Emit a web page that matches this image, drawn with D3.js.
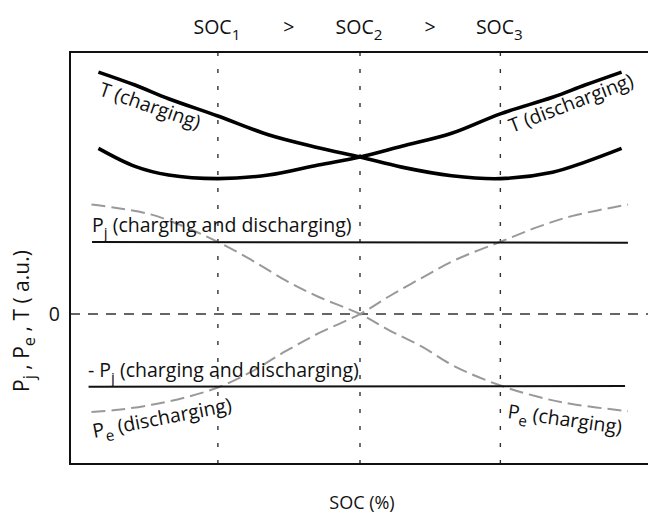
<!DOCTYPE html>
<html>
<head>
<meta charset="utf-8">
<script src="https://cdn.jsdelivr.net/npm/d3@7"></script>
<style>
  html, body { margin: 0; padding: 0; background: #fff; }
  svg { display: block; font-family: "Open Sans", "Noto Sans", sans-serif; }
</style>
</head>
<body>
<svg id="chart" width="648" height="515"></svg>
<script>
// State-of-charge positions (%) and the three reference SOC levels
const socMarks = [25.5, 50, 74.2];
const socMarkNames = ["1", "2", "3"];

// Temperature curves (a.u.)
const socT = [4.9, 11.2, 17, 25.5, 34.2, 42.8, 50, 57.2, 65.8, 74.2, 83.2, 88.8, 95.1];
const tCharging    = [3.36, 3.18, 2.99, 2.75, 2.49, 2.31, 2.18, 2.04, 1.92, 1.88, 1.97, 2.11, 2.30];
const tDischarging = [2.30, 2.05, 1.93, 1.88, 1.93, 2.07, 2.18, 2.33, 2.51, 2.78, 3.01, 3.18, 3.36];

// Entropic heat Pe (a.u.)
const socPe = [3.7, 8.3, 14.1, 19.8, 25.5, 31.3, 37.1, 42.8, 50, 54.9, 60.6, 66.4, 74.1, 80.7, 86.5, 96.2];
const peCharging    = [1.52, 1.47, 1.38, 1.21, 1.00, 0.75, 0.47, 0.24, 0, -0.22, -0.45, -0.73, -0.99, -1.15, -1.25, -1.35];
const peDischarging = [-1.36, -1.33, -1.26, -1.16, -1.02, -0.80, -0.52, -0.27, 0, 0.24, 0.50, 0.75, 1.00, 1.21, 1.36, 1.52];

// Joule heat Pj and its negative (a.u.)
const socPj = [3.8, 96.2];
const pj = [1.0, 0.99];
const socNegPj = [3.2, 95.7];
const negPj = [-1.01, -1.0];

const svg = d3.select("#chart");
const plot = { left: 70, top: 52, bottom: 464, right: 660 };
const fs = 19.5;

const x = d3.scaleLinear().domain([0, 100]).range([70, 650]);
const y = d3.scaleLinear().domain([-2.083, 3.639]).range([plot.bottom, plot.top]);

svg.append("defs").append("clipPath").attr("id", "plotClip")
  .append("rect").attr("x", plot.left).attr("y", plot.top)
  .attr("width", plot.right - plot.left).attr("height", plot.bottom - plot.top);

const g = svg.append("g").attr("clip-path", "url(#plotClip)");

// Vertical dotted markers at SOC1, SOC2, SOC3
g.selectAll(".soc-mark").data(socMarks).join("line")
  .attr("x1", d => x(d)).attr("x2", d => x(d))
  .attr("y1", plot.top).attr("y2", plot.bottom)
  .attr("stroke", "#333").attr("stroke-width", 1.4)
  .attr("stroke-dasharray", "4,13");

// Zero line
g.append("line")
  .attr("x1", plot.left).attr("x2", 648)
  .attr("y1", y(0)).attr("y2", y(0))
  .attr("stroke", "#333").attr("stroke-width", 1.4)
  .attr("stroke-dasharray", "10,8");

const line = d3.line().x(d => x(d[0])).y(d => y(d[1])).curve(d3.curveCatmullRom.alpha(0.5));
const zip = (a, b) => a.map((v, i) => [v, b[i]]);

// Pe curves (grey, dashed)
[peCharging, peDischarging].forEach(vals => {
  g.append("path").datum(zip(socPe, vals))
    .attr("d", line).attr("fill", "none")
    .attr("stroke", "#999").attr("stroke-width", 2)
    .attr("stroke-dasharray", "14,6");
});

// Pj and -Pj
g.append("path").datum(zip(socPj, pj)).attr("d", line)
  .attr("fill", "none").attr("stroke", "#111").attr("stroke-width", 2);
g.append("path").datum(zip(socNegPj, negPj)).attr("d", line)
  .attr("fill", "none").attr("stroke", "#111").attr("stroke-width", 2);

// T curves
[tCharging, tDischarging].forEach(vals => {
  g.append("path").datum(zip(socT, vals))
    .attr("d", line).attr("fill", "none")
    .attr("stroke", "#000").attr("stroke-width", 3.6)
    .attr("stroke-linecap", "butt");
});

// Frame
svg.append("rect")
  .attr("x", plot.left).attr("y", plot.top)
  .attr("width", plot.right - plot.left).attr("height", plot.bottom - plot.top)
  .attr("fill", "none").attr("stroke", "#111").attr("stroke-width", 2);

// Y axis with only the zero tick
const yAxis = d3.axisLeft(y).tickValues([0]).tickFormat(d3.format("d")).tickSize(0).tickPadding(10);
const ya = svg.append("g").attr("transform", `translate(${plot.left},0)`).call(yAxis);
ya.select(".domain").remove();
ya.selectAll("text").attr("font-size", fs).attr("font-family", "Open Sans, sans-serif").attr("fill", "#111");

// Helper for labels with a subscript
function label(xp, yp, angle, parts, size) {
  const t = svg.append("text")
    .attr("transform", `translate(${xp},${yp}) rotate(${angle})`)
    .attr("font-size", size).attr("fill", "#111");
  parts.forEach(p => {
    if (p.sub) {
      t.append("tspan").attr("dy", size * 0.3).attr("font-size", size * 0.78).text(p.text);
    } else if (p.after) {
      t.append("tspan").attr("dy", -size * 0.3).text(p.text);
    } else {
      t.append("tspan").text(p.text);
    }
  });
  return t;
}

// Header: SOC1 > SOC2 > SOC3
socMarks.forEach((d, i) => {
  const t = svg.append("text").attr("x", x(d) - 1).attr("y", 34)
    .attr("text-anchor", "middle").attr("font-size", fs).attr("fill", "#111");
  t.append("tspan").text("SOC");
  t.append("tspan").attr("dy", 6).attr("font-size", fs * 0.78).text(socMarkNames[i]);
});
[ (socMarks[0] + socMarks[1]) / 2, (socMarks[1] + socMarks[2]) / 2 ].forEach(d => {
  svg.append("text").attr("x", x(d)).attr("y", 34)
    .attr("text-anchor", "middle").attr("font-size", fs).attr("fill", "#111").text(">");
});

// Curve labels
label(98, 95, 19, [{ text: "T (charging)" }], fs);
label(512, 133, -21, [{ text: "T (discharging)" }], fs);
label(92, 232, 0, [{ text: "P" }, { text: "j", sub: true }, { text: " (charging and discharging)", after: true }], fs);
label(88, 377, 0, [{ text: "- P" }, { text: "j", sub: true }, { text: " (charging and discharging)", after: true }], fs);
label(94, 438, -11, [{ text: "P" }, { text: "e", sub: true }, { text: " (discharging)", after: true }], fs);
label(507, 418, 8, [{ text: "P" }, { text: "e", sub: true }, { text: " (charging)", after: true }], fs);

// Axis titles
svg.append("text").attr("x", 362).attr("y", 509).attr("text-anchor", "middle")
  .attr("font-size", 18).attr("fill", "#111").text("SOC (%)");

const yfs = 21;
const yt = svg.append("text")
  .attr("transform", `translate(29,${y(0) + 7}) rotate(-90)`)
  .attr("text-anchor", "middle").attr("font-size", yfs).attr("fill", "#111");
yt.append("tspan").text("P");
yt.append("tspan").attr("dy", 6).attr("font-size", yfs * 0.78).text("j");
yt.append("tspan").attr("dy", -6).text(" , P");
yt.append("tspan").attr("dy", 6).attr("font-size", yfs * 0.78).text("e");
yt.append("tspan").attr("dy", -6).text(" , T ( a.u.)");
</script>
</body>
</html>
